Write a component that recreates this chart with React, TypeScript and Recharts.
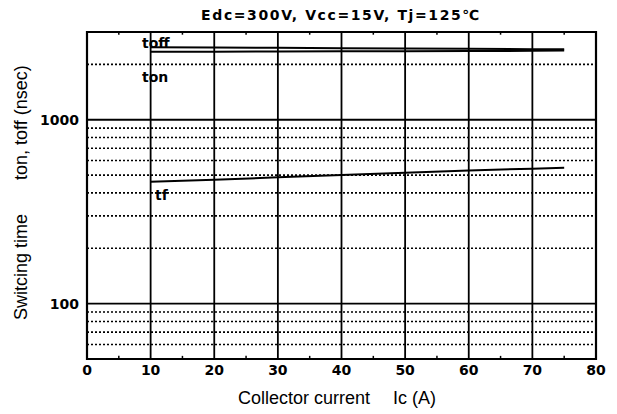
import { Line, LineChart, ReferenceArea, ReferenceLine, XAxis, YAxis } from "recharts";

const currents = [10, 20, 30, 40, 50, 60, 70, 75];
const toff = [2480, 2470, 2460, 2450, 2440, 2430, 2420, 2420];
const ton = [2340, 2345, 2350, 2355, 2360, 2365, 2370, 2380];
const tf = [460, 472, 486, 500, 515, 530, 542, 548];

const xTicks = [0, 10, 20, 30, 40, 50, 60, 70, 80];
const yTicks = [100, 1000];
const solidX = [10, 20, 30, 40, 50, 60, 70];
const solidY = [100, 1000];
const dottedY = [60, 70, 80, 90, 200, 300, 400, 500, 600, 700, 800, 900, 2000];
const minorX = [5, 15, 25, 35, 45, 55, 65, 75];

const data = currents.map((ic, i) => ({ ic, toff: toff[i], ton: ton[i], tf: tf[i] }));

const labelFont = "'Liberation Sans', Arial, sans-serif";
const boldFont = "'DejaVu Sans', sans-serif";
const tick = { fill: "#000", fontSize: 14, fontWeight: 700, fontFamily: boldFont };

export default function App() {
  return (
    <div style={{ position: "absolute", left: 0, top: 0, width: 617, height: 414, background: "#fff" }}>
      <LineChart width={617} height={414} data={data} margin={{ top: 32, right: 21, left: 0, bottom: 0 }}>
        <XAxis
          dataKey="ic"
          type="number"
          domain={[0, 80]}
          ticks={xTicks}
          axisLine={false}
          tickLine={false}
          tick={tick}
          height={55}
          tickMargin={0}
        />
        <YAxis
          type="number"
          scale="log"
          domain={[50, 3000]}
          ticks={yTicks}
          allowDataOverflow
          axisLine={false}
          tickLine={false}
          tick={tick}
          width={87}
          tickMargin={2}
        />
        {dottedY.map((v) => (
          <ReferenceLine key={`d${v}`} y={v} stroke="#000" strokeWidth={1.6} strokeDasharray="2 2" />
        ))}
        {solidY.map((v) => (
          <ReferenceLine key={`s${v}`} y={v} stroke="#000" strokeWidth={1.8} />
        ))}
        {solidX.map((v) => (
          <ReferenceLine key={`x${v}`} x={v} stroke="#000" strokeWidth={1.8} />
        ))}
        {minorX.map((v) => (
          <ReferenceLine key={`mb${v}`} segment={[{ x: v, y: 50 }, { x: v, y: 52 }]} stroke="#000" strokeWidth={1.5} />
        ))}
        {minorX.map((v) => (
          <ReferenceLine key={`mt${v}`} segment={[{ x: v, y: 2900 }, { x: v, y: 3000 }]} stroke="#000" strokeWidth={1.5} />
        ))}
        <ReferenceArea x1={0} x2={80} y1={50} y2={3000} fill="none" stroke="#000" strokeWidth={2.2} />
        <Line dataKey="toff" type="linear" stroke="#000" strokeWidth={2} dot={false} isAnimationActive={false} />
        <Line dataKey="ton" type="linear" stroke="#000" strokeWidth={2} dot={false} isAnimationActive={false} />
        <Line dataKey="tf" type="linear" stroke="#000" strokeWidth={2} dot={false} isAnimationActive={false} />
      </LineChart>

      <svg width={617} height={414} style={{ position: "absolute", left: 0, top: 0, pointerEvents: "none" }}>
        <text x={341} y={20} textAnchor="middle" fontFamily={boldFont} fontWeight={700} fontSize={14} letterSpacing={1.6}>
          Edc=300V, Vcc=15V, Tj=125℃
        </text>
        <text x={238} y={404} fontFamily={labelFont} fontSize={18}>Collector current</text>
        <text x={393} y={404} fontFamily={labelFont} fontSize={18}>Ic (A)</text>
        <text transform="translate(27,320) rotate(-90)" fontFamily={labelFont} fontSize={18}>Switcing time</text>
        <text transform="translate(27,180) rotate(-90)" fontFamily={labelFont} fontSize={18}>ton, toff (nsec)</text>
        <text x={142} y={48} fontFamily={boldFont} fontWeight={700} fontSize={14}>toff</text>
        <text x={142} y={82} fontFamily={boldFont} fontWeight={700} fontSize={14}>ton</text>
        <text x={155} y={200} fontFamily={boldFont} fontWeight={700} fontSize={14}>tf</text>
      </svg>
    </div>
  );
}
